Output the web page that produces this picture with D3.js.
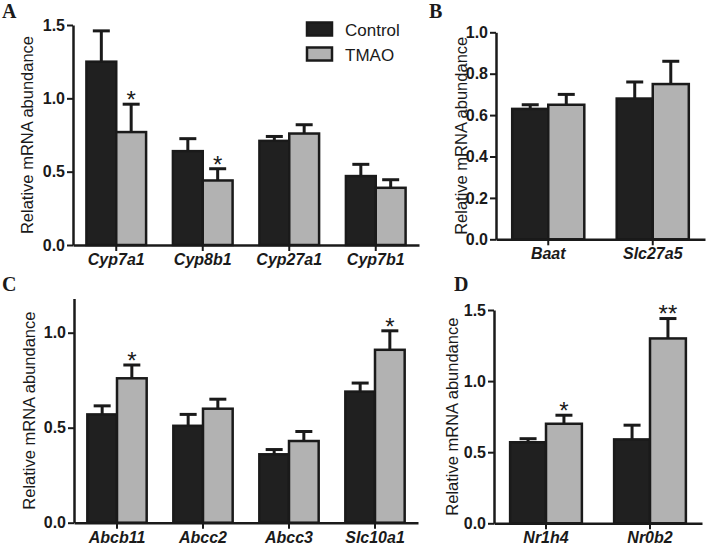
<!DOCTYPE html>
<html>
<head>
<meta charset="utf-8">
<script src="https://cdn.jsdelivr.net/npm/d3@7"></script>
<style>
  html, body { margin: 0; padding: 0; background: #fff; }
  svg { display: block; }
  text { font-family: "Liberation Sans", Arial, sans-serif; fill: #1a1a1a; }
</style>
</head>
<body>
<svg id="chart" width="709" height="551"></svg>
<script>
// ---------------- DATA ----------------
const seriesNames = ["Control", "TMAO"];

const catsA = ["Cyp7a1", "Cyp8b1", "Cyp27a1", "Cyp7b1"];
const ctrlA = [1.25, 0.64, 0.71, 0.47];
const ctrlErrA = [0.21, 0.085, 0.03, 0.08];
const tmaoA = [0.77, 0.44, 0.76, 0.39];
const tmaoErrA = [0.19, 0.08, 0.06, 0.055];
const starsA = ["*", "*", "", ""];
const ticksA = [0, 0.5, 1.0, 1.5];

const catsB = ["Baat", "Slc27a5"];
const ctrlB = [0.63, 0.68];
const ctrlErrB = [0.02, 0.08];
const tmaoB = [0.65, 0.75];
const tmaoErrB = [0.05, 0.11];
const starsB = ["", ""];
const ticksB = [0, 0.2, 0.4, 0.6, 0.8, 1.0];

const catsC = ["Abcb11", "Abcc2", "Abcc3", "Slc10a1"];
const ctrlC = [0.57, 0.51, 0.36, 0.69];
const ctrlErrC = [0.045, 0.06, 0.025, 0.045];
const tmaoC = [0.76, 0.60, 0.43, 0.91];
const tmaoErrC = [0.07, 0.05, 0.05, 0.10];
const starsC = ["*", "", "", "*"];
const ticksC = [0, 0.5, 1.0];

const catsD = ["Nr1h4", "Nr0b2"];
const ctrlD = [0.57, 0.59];
const ctrlErrD = [0.025, 0.10];
const tmaoD = [0.70, 1.30];
const tmaoErrD = [0.06, 0.14];
const starsD = ["*", "**"];
const ticksD = [0, 0.5, 1.0, 1.5];

const yTitle = "Relative mRNA abundance";

// ---------------- DRAW ----------------
const svg = d3.select("#chart");
const colors = { Control: "#202020", TMAO: "#b2b2b2" };

function drawPanel(cfg) {
  const g = svg.append("g");
  const x0 = d3.scaleBand().domain(cfg.cats).range([cfg.left, cfg.right])
    .paddingInner(0.31).paddingOuter(0.155);
  const x1 = d3.scaleBand().domain(seriesNames).range([0, x0.bandwidth()]);
  const y = d3.scaleLinear().domain([0, cfg.yMax]).range([cfg.bottom, cfg.top]);

  const rows = [];
  cfg.cats.forEach((c, i) => {
    rows.push({ cat: c, s: "Control", v: cfg.ctrl[i], e: cfg.ctrlErr[i], star: "" });
    rows.push({ cat: c, s: "TMAO", v: cfg.tmao[i], e: cfg.tmaoErr[i], star: cfg.stars[i] });
  });

  // error bars (upper only)
  const eb = g.append("g");
  rows.forEach(r => {
    const cx = x0(r.cat) + x1(r.s) + x1.bandwidth() / 2;
    eb.append("line").attr("x1", cx).attr("x2", cx)
      .attr("y1", y(r.v)).attr("y2", y(r.v + r.e))
      .attr("stroke", "#1a1a1a").attr("stroke-width", 3);
    eb.append("line").attr("x1", cx - 8.5).attr("x2", cx + 8.5)
      .attr("y1", y(r.v + r.e)).attr("y2", y(r.v + r.e))
      .attr("stroke", "#1a1a1a").attr("stroke-width", 3);
    if (r.star) {
      eb.append("text").attr("x", cx).attr("y", y(r.v + r.e) - 10)
        .attr("dy", "0.58em").attr("text-anchor", "middle")
        .style("font-size", "24px").text(r.star);
    }
  });

  // bars
  g.append("g").selectAll("rect").data(rows).join("rect")
    .attr("x", d => x0(d.cat) + x1(d.s))
    .attr("y", d => y(d.v))
    .attr("width", x1.bandwidth())
    .attr("height", d => y(0) - y(d.v))
    .attr("fill", d => colors[d.s])
    .attr("stroke", "#1a1a1a").attr("stroke-width", 2.5);

  // axes
  const ya = g.append("g").attr("transform", `translate(${cfg.left},0)`)
    .call(d3.axisLeft(y).tickValues(cfg.ticks).tickFormat(d3.format(".1f"))
      .tickSize(6).tickSizeOuter(0).tickPadding(2));
  ya.select(".domain").attr("stroke", "#1a1a1a").attr("stroke-width", 2.5);
  ya.selectAll(".tick line").attr("stroke", "#1a1a1a").attr("stroke-width", 2);
  ya.selectAll(".tick text").style("font-size", "16px").style("font-weight", "bold")
    .attr("fill", "#1a1a1a");

  const xa = g.append("g").attr("transform", `translate(0,${cfg.bottom})`)
    .call(d3.axisBottom(x0).tickSize(6).tickSizeOuter(0));
  xa.select(".domain").attr("stroke", "#1a1a1a").attr("stroke-width", 2.5);
  xa.selectAll(".tick line").attr("stroke", "#1a1a1a").attr("stroke-width", 2);
  xa.selectAll(".tick text").attr("y", 20).attr("dy", 0)
    .style("font-size", "16px").style("font-weight", "bold").style("font-style", "italic")
    .attr("fill", "#1a1a1a");

  // y title
  g.append("text")
    .attr("transform", `translate(${cfg.titleX},${(cfg.top + cfg.bottom) / 2}) rotate(-90)`)
    .attr("text-anchor", "middle").style("font-size", "16.5px").text(yTitle);

  // panel letter
  g.append("text").attr("x", cfg.letterX).attr("y", cfg.letterY)
    .style("font-family", "'Liberation Serif', 'Times New Roman', serif")
    .style("font-weight", "bold").style("font-size", "20px").text(cfg.letter);
}

drawPanel({ cats: catsA, ctrl: ctrlA, ctrlErr: ctrlErrA, tmao: tmaoA, tmaoErr: tmaoErrA,
  stars: starsA, ticks: ticksA, yMax: 1.5, left: 73, right: 419, top: 25, bottom: 245,
  titleX: 33, letter: "A", letterX: 2, letterY: 18 });
drawPanel({ cats: catsB, ctrl: ctrlB, ctrlErr: ctrlErrB, tmao: tmaoB, tmaoErr: tmaoErrB,
  stars: starsB, ticks: ticksB, yMax: 1.0, left: 496, right: 705, top: 32.3, bottom: 239.3,
  titleX: 467, letter: "B", letterX: 429, letterY: 18 });
drawPanel({ cats: catsC, ctrl: ctrlC, ctrlErr: ctrlErrC, tmao: tmaoC, tmaoErr: tmaoErrC,
  stars: starsC, ticks: ticksC, yMax: 1.18, left: 74, right: 418, top: 298.5, bottom: 522.7,
  titleX: 35, letter: "C", letterX: 2, letterY: 291 });
drawPanel({ cats: catsD, ctrl: ctrlD, ctrlErr: ctrlErrD, tmao: tmaoD, tmaoErr: tmaoErrD,
  stars: starsD, ticks: ticksD, yMax: 1.5, left: 494, right: 702, top: 310, bottom: 523.3,
  titleX: 458, letter: "D", letterX: 454, letterY: 291 });

// legend
const legend = svg.append("g");
seriesNames.forEach((s, i) => {
  legend.append("rect").attr("x", 307).attr("y", 22.5 + i * 25).attr("width", 25).attr("height", 13)
    .attr("fill", colors[s]).attr("stroke", "#1a1a1a").attr("stroke-width", 2.5);
  legend.append("text").attr("x", 345).attr("y", 35.5 + i * 25)
    .style("font-size", "17px").text(s);
});
</script>
</body>
</html>
